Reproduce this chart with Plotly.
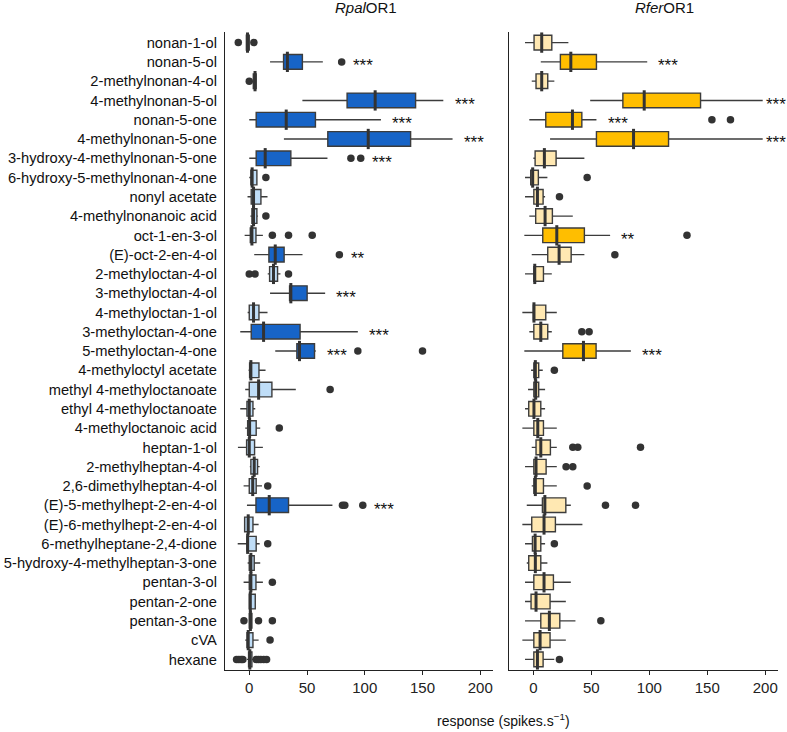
import plotly.graph_objects as go

categories = [
    "nonan-1-ol", "nonan-5-ol", "2-methylnonan-4-ol", "4-methylnonan-5-ol",
    "nonan-5-one", "4-methylnonan-5-one", "3-hydroxy-4-methylnonan-5-one",
    "6-hydroxy-5-methylnonan-4-one", "nonyl acetate", "4-methylnonanoic acid",
    "oct-1-en-3-ol", "(E)-oct-2-en-4-ol", "2-methyloctan-4-ol", "3-methyloctan-4-ol",
    "4-methyloctan-1-ol", "3-methyloctan-4-one", "5-methyloctan-4-one",
    "4-methyloctyl acetate", "methyl 4-methyloctanoate", "ethyl 4-methyloctanoate",
    "4-methyloctanoic acid", "heptan-1-ol", "2-methylheptan-4-ol",
    "2,6-dimethylheptan-4-ol", "(E)-5-methylhept-2-en-4-ol", "(E)-6-methylhept-2-en-4-ol",
    "6-methylheptane-2,4-dione", "5-hydroxy-4-methylheptan-3-one", "pentan-3-ol",
    "pentan-2-one", "pentan-3-one", "cVA", "hexane",
]

# ---- RpalOR1 ----
rpal_lo = [-3, 18, 3.2, 46, 0, 30, 0, 0, -1.5, 1, -4, 4.3, 16, 18, -1.4, -7.8, 22.5,
           -0.6, -3.5, -7.8, -3.5, -9.8, 0.5, -4.9, -2, -4.6, -10, -1.4, -4.9, 0, 0, -3.5, -2]
rpal_q1 = [-2.5, 29.7, 3.5, 84.7, 6, 68, 6, 1.4, 1.7, 2.3, 0.9, 17, 17.6, 34.9, 0, 1.7, 41.2,
           0.3, 0, -2, -1.4, -2.3, 1.4, 0, 5.8, -4, -2, 0, 0, 0, 0, -2, -0.6]
rpal_med = [-1.5, 33, 5, 109, 32, 103, 13.8, 2.5, 3.7, 3.7, 2.3, 22.5, 21, 36, 3.7, 12.4, 43.5,
            1.4, 8.1, 0, 0.3, 0, 4.3, 3, 17.3, -0.9, -1.4, 1.4, 1.4, 0.9, 1, -0.9, 0.5]
rpal_q3 = [0, 46, 6, 144, 57.3, 139.7, 36, 6.6, 10.1, 6.6, 5.8, 30.2, 24.5, 50.1, 8.4, 44, 56.5,
           8.4, 19.6, 3.2, 6, 4.6, 7.2, 6, 34, 3.2, 6, 4.3, 5.8, 5.2, 2.3, 3.2, 2.3]
rpal_hi = [0.5, 63.7, 6.3, 168, 114, 176, 67.7, 7, 15.8, 7.5, 11.8, 46.1, 27, 65.7, 15.8, 94, 57.6,
           14.1, 40.3, 5.2, 9.5, 11.8, 9, 11, 72, 8.1, 9, 9.5, 11.8, 5.5, 2.3, 8.1, 4]
rpal_out = [[-9.5, 4], [80], [0], [], [], [], [88, 96.5], [14.4], [], [14.4],
            [20, 34, 54.5], [78], [0, 5, 34], [], [], [], [94, 150],
            [], [70], [], [26], [], [], [16], [80.7, 82.7, 98.3], [], [16],
            [], [20], [], [-4.6, 8, 20], [18], [-11, -9, -7, -5.5, 6, 8, 10, 12.5, 15]]
rpal_sig = ["", "***", "", "***", "***", "***", "***", "", "", "", "", "**", "", "***", "",
            "***", "***", "", "", "", "", "", "", "", "***", "", "", "", "", "", "", "", ""]

# ---- RferOR1 ----
rfer_lo = [-7.2, 6.4, -1.4, 49, -3.5, 14.4, 0, -7.2, -7.2, -3.5, -7.8, -1.4, -7.2, None, -9.5,
           -3.5, -7.8, -2, -4.6, -7.2, -9.5, -1.4, -7.2, -1.4, -5.7, -9.5, -7.2, -5.7, -7.2,
           -7.2, -7.2, -9.5, -7.2]
rfer_q1 = [0.6, 23.3, 2.3, 77.2, 10.7, 54.4, 1.5, -2.3, 0.4, 2, 8.1, 12.4, 0.4, None, 0,
           0.4, 25.4, 0.4, 0.4, -4, 0.4, 2.3, 0.4, 0.4, 7.8, -1.4, -0.8, -4, 0.4,
           -2, 6.4, 0.4, 0.4]
rfer_med = [7.2, 32.3, 7.2, 95.6, 33.7, 86.4, 9.5, -0.6, 3.5, 10.1, 20.2, 22.2, 1.2, None, 0.5,
            6.4, 43.2, 1.7, 2, 0.5, 3.8, 6.4, 2.3, 1.7, 9.9, 9.2, 1.5, 1.7, 9.2,
            2.3, 13.8, 5.8, 3.5]
rfer_q3 = [15.9, 54.4, 12.4, 144.2, 41.8, 116.6, 19.6, 4.3, 8.4, 16.4, 44, 32.6, 8.7, None, 10.7,
           12.4, 54.1, 4.6, 4.6, 6.4, 8.7, 14.7, 11, 8.7, 28, 19, 6.4, 6.4, 17.3,
           14.4, 22.8, 14.4, 8.4]
rfer_hi = [30.2, 98.2, 18.1, 197.8, 54.4, 197.8, 44, 12.1, 10.1, 34, 66.2, 44, 15.9, None, 20.2,
           15.9, 84.1, 8.1, 10.1, 10.1, 20.2, 20.2, 20.2, 20.2, 32.3, 42.3, 10.1, 12.1, 32.3,
           28, 36.3, 28, 18]
rfer_out = [[], [], [], [], [154, 170], [], [], [46.4], [22.5], [], [132.5], [70.3], [], [], [],
            [41.8, 48.1], [], [18.1], [], [], [], [34, 38.3, 92.4], [28.2, 34], [46.4],
            [62.2, 88.1], [], [18.1], [], [], [], [58.2], [], [22.5]]
rfer_sig = ["", "***", "", "***", "***", "***", "", "", "", "", "**", "", "", "", "",
            "", "***", "", "", "", "", "", "", "", "", "", "", "", "", "", "", "", ""]

x_ticks = [0, 50, 100, 150, 200]
x_range = [-21, 211]

# ---- styling ----
BLUE_STRONG = "#1764C7"
BLUE_LIGHT = "#BFDDF7"
GOLD_STRONG = "#FFBE00"
GOLD_LIGHT = "#FFE8B2"
EDGE = "#3C3C3C"
DARK = "#333333"

fig = go.Figure()

panels = [
    ("x", "y", rpal_lo, rpal_q1, rpal_med, rpal_q3, rpal_hi, rpal_out, rpal_sig, BLUE_STRONG, BLUE_LIGHT),
    ("x2", "y2", rfer_lo, rfer_q1, rfer_med, rfer_q3, rfer_hi, rfer_out, rfer_sig, GOLD_STRONG, GOLD_LIGHT),
]

annotations = []
for xa, ya, lo, q1, med, q3, hi, outs, sig, strong, light in panels:
    for is_strong, col in ((True, strong), (False, light)):
        idx = [i for i in range(len(categories))
               if med[i] is not None and (sig[i] != "") == is_strong]
        fig.add_trace(go.Box(
            orientation="h",
            y=[categories[i] for i in idx],
            q1=[q1[i] for i in idx], median=[med[i] for i in idx], q3=[q3[i] for i in idx],
            lowerfence=[lo[i] for i in idx], upperfence=[hi[i] for i in idx],
            fillcolor=col, line=dict(color=EDGE, width=1.4),
            width=0.76, whiskerwidth=0, boxpoints=False,
            xaxis=xa, yaxis=ya, showlegend=False, hoverinfo="skip",
        ))
    # thick median lines
    idx = [i for i in range(len(categories)) if med[i] is not None]
    fig.add_trace(go.Scatter(
        x=[med[i] for i in idx], y=[categories[i] for i in idx], mode="markers",
        marker=dict(symbol="line-ns", size=14.5, line=dict(color=DARK, width=3)),
        xaxis=xa, yaxis=ya, showlegend=False, hoverinfo="skip",
    ))
    # outliers
    ox, oy = [], []
    for i, pts in enumerate(outs):
        for p in pts:
            ox.append(p)
            oy.append(categories[i])
    fig.add_trace(go.Scatter(
        x=ox, y=oy, mode="markers",
        marker=dict(size=7.5, color=DARK),
        xaxis=xa, yaxis=ya, showlegend=False, hoverinfo="skip",
    ))
    # significance stars
    for i, s in enumerate(sig):
        if not s:
            continue
        near = [p for p in outs[i] if hi[i] < p <= hi[i] + 35]
        start = min(max([hi[i]] + near) + 8, x_range[1] - 12.5)
        annotations.append(dict(
            x=start, y=categories[i], xref=xa, yref=ya, text=s, showarrow=False,
            xanchor="left", yanchor="middle", yshift=-4,
            font=dict(size=17, color="#111111", family="Liberation Sans, Arial, sans-serif"),
        ))

annotations += [
    dict(x=0.255, y=1.0384, xref="paper", yref="paper", text="<i>Rpal</i>OR1",
         showarrow=False, xanchor="center", yanchor="middle",
         font=dict(size=15, color="#111111")),
    dict(x=0.794, y=1.0384, xref="paper", yref="paper", text="<i>Rfer</i>OR1",
         showarrow=False, xanchor="center", yanchor="middle",
         font=dict(size=15, color="#111111")),
    dict(x=0.504, y=-0.079, xref="paper", yref="paper",
         text="response (spikes.s<sup>−1</sup>)",
         showarrow=False, xanchor="center", yanchor="middle",
         font=dict(size=14, color="#111111")),
]

xaxis_style = dict(
    range=x_range, tickvals=x_ticks, ticks="outside", ticklen=4, tickwidth=1.2,
    tickcolor="#222222", showline=True, linecolor="#222222", linewidth=1.3,
    showgrid=False, zeroline=False, tickfont=dict(size=15, color="#222222"),
    automargin=False,
)
yaxis_style = dict(
    type="category", categoryorder="array", categoryarray=categories,
    range=[32.55, -0.55], showline=True, linecolor="#222222", linewidth=1.3,
    showgrid=False, zeroline=False, ticks="", automargin=False,
)

fig.update_layout(
    width=787, height=732,
    margin=dict(l=225, r=9, t=32, b=62, autoexpand=False),
    paper_bgcolor="white", plot_bgcolor="white",
    font=dict(family="Liberation Sans, Arial, sans-serif", color="#111111"),
    boxmode="overlay",
    xaxis=dict(domain=[0, 0.4846], anchor="y", **xaxis_style),
    xaxis2=dict(domain=[0.5136, 1], anchor="y2", **xaxis_style),
    yaxis=dict(anchor="x", tickfont=dict(size=14.7, color="#111111"),
               ticklabelstandoff=4, **yaxis_style),
    yaxis2=dict(anchor="x2", showticklabels=False, **yaxis_style),
    annotations=annotations,
)

fig.write_html(
    "out.html",
    config={"displayModeBar": False},
    post_script="document.body.style.margin='0';document.body.style.overflow='hidden';",
)
